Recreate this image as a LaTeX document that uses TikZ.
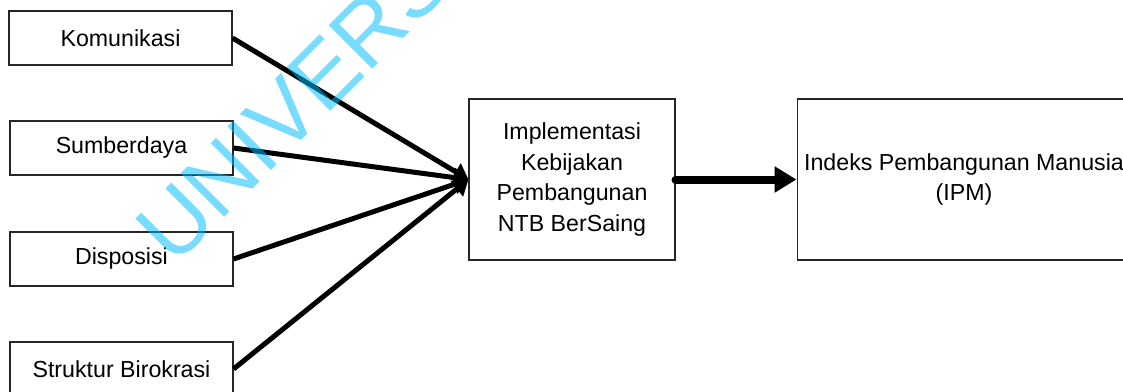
\documentclass[tikz,border=0pt]{standalone}
\usepackage{fontspec}
\setmainfont{Liberation Sans}
\usepackage{xcolor}
\usetikzlibrary{arrows.meta}
\definecolor{wmcyan}{RGB}{0,189,255}
\tikzset{
  factorbox/.style={draw=black!85,line width=0.6pt,minimum width=4.46cm,minimum height=1.08cm,inner sep=0pt,font=\fontsize{13.2}{17.6}\selectfont},
  mainbox/.style={draw=black!85,line width=0.6pt,minimum height=3.22cm,inner sep=0pt,align=center,font=\fontsize{13.2}{17.6}\selectfont},
  factorarrow/.style={line width=0.1cm,-{Triangle[length=0.3cm,width=0.38cm]}},
  mainarrow/.style={line width=0.16cm,line cap=round,-{Triangle[length=0.44cm,width=0.5cm]}}
}
\begin{document}
\begin{tikzpicture}[x=0.02cm,y=-0.02cm]
\useasboundingbox (0,0) rectangle (1123,392);
\clip (0,0) rectangle (1123,392);
\node[factorbox] (kom) at (120.5,38) {Komunikasi};
\node[factorbox] (sum) at (121.5,148) {Sumberdaya};
\node[factorbox] (dis) at (121.5,259) {Disposisi};
\node[factorbox] (str) at (121.5,369) {Struktur Birokrasi};
\node[mainbox,minimum width=4.12cm] (impl) at (572,179.5) {Implementasi\\Kebijakan\\Pembangunan\\NTB BerSaing};
\node[mainbox,minimum width=6.68cm] (ipm) at (964,179.5) {Indeks Pembangunan Manusia\\(IPM)};
\draw[factorarrow] (kom.east) -- (impl.west);
\draw[factorarrow] (sum.east) -- (impl.west);
\draw[factorarrow] (dis.east) -- (impl.west);
\draw[factorarrow] (str.east) -- (impl.west);
\draw[mainarrow] (impl.east) -- (ipm.west);
\node[anchor=base west,inner sep=0pt,rotate=45,text=wmcyan,opacity=0.53,font=\fontsize{51}{51}\selectfont] (mark) at (174,268) {UNIVERS};
\end{tikzpicture}
\end{document}
